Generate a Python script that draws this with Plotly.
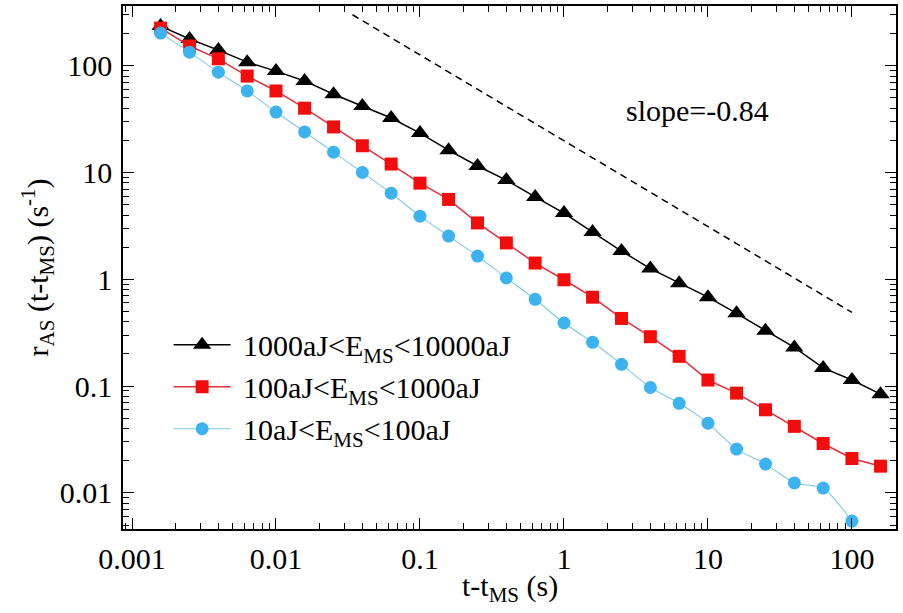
import plotly.graph_objects as go

# ---- data ----
t_vals = [0.00158, 0.00251, 0.00398, 0.00631, 0.01, 0.0158, 0.0251, 0.0398, 0.0631,
          0.1, 0.158, 0.251, 0.398, 0.631, 1, 1.58, 2.51, 3.98, 6.31, 10, 15.8,
          25.1, 39.8, 63.1, 100, 158]
rate_high = [235, 178, 140, 108, 89, 72, 54, 42, 32.4, 23.4, 16.2, 11.5, 8.5, 5.9,
             4.17, 2.77, 1.84, 1.26, 0.92, 0.68, 0.48, 0.33, 0.23, 0.148, 0.114, 0.084]
rate_mid = [225, 153, 116, 80, 58, 40, 26.7, 17.8, 12.0, 7.95, 5.6, 3.37, 2.19, 1.42,
            0.99, 0.68, 0.43, 0.29, 0.19, 0.114, 0.086, 0.060, 0.042, 0.029, 0.021, 0.0178]
rate_low = [202, 134, 87, 58, 36.8, 24, 15.5, 10, 6.4, 3.9, 2.54, 1.65, 1.03, 0.65,
            0.39, 0.257, 0.16, 0.097, 0.069, 0.045, 0.0257, 0.0186, 0.0124, 0.0111, 0.00545]
slope_x = [0.034, 100]
slope_y = [300, 0.49]
names = ["\u00a01000aJ<E<sub>MS</sub><10000aJ", "\u00a0100aJ<E<sub>MS</sub><1000aJ",
         "\u00a010aJ<E<sub>MS</sub><100aJ"]
x_tickvals = [0.001, 0.01, 0.1, 1, 10, 100]
x_ticktext = ["0.001", "0.01", "0.1", "1", "10", "100"]
y_tickvals = [0.01, 0.1, 1, 10, 100]
y_ticktext = ["0.01", "0.1", "1", "10", "100"]

FONT = "Liberation Serif, Times New Roman, Times, DejaVu Serif, serif"
FS = 30

fig = go.Figure()
fig.add_trace(go.Scatter(x=slope_x, y=slope_y, mode="lines", showlegend=False,
                         line=dict(color="black", width=1.5, dash="7px,5px")))
fig.add_trace(go.Scatter(x=t_vals, y=rate_high, mode="lines+markers", name=names[0],
                         line=dict(color="black", width=1.5),
                         marker=dict(symbol="triangle-up", size=16, color="black")))
fig.add_trace(go.Scatter(x=t_vals, y=rate_mid, mode="lines+markers", name=names[1],
                         line=dict(color="#e3303c", width=1.5),
                         marker=dict(symbol="square", size=13, color="#f20c0c")))
fig.add_trace(go.Scatter(x=t_vals[:len(rate_low)], y=rate_low, mode="lines+markers", name=names[2],
                         line=dict(color="#7fc8e6", width=1.1, shape="spline", smoothing=0.6),
                         marker=dict(symbol="circle", size=13, color="#3cb2ee")))

axis_common = dict(type="log", showline=True, linecolor="black", linewidth=1.5,
                   mirror="allticks", ticks="inside", ticklen=11, tickwidth=1.2,
                   tickcolor="black", showgrid=False, zeroline=False, automargin=False,
                   tickfont=dict(family=FONT, size=FS, color="black"),
                   minor=dict(ticks="inside", ticklen=6, tickwidth=1, tickcolor="black",
                              dtick="D1", showgrid=False))

fig.update_xaxes(**axis_common, range=[-3.0625, 2.306], tickmode="array",
                 tickvals=x_tickvals, ticktext=x_ticktext, ticklabelstandoff=2)
fig.update_yaxes(**axis_common, range=[-2.338, 2.559], tickmode="array",
                 tickvals=y_tickvals, ticktext=y_ticktext, ticklabelstandoff=3)

fig.add_annotation(text="slope=-0.84", xref="paper", yref="paper", x=0.7426, y=0.800,
                   showarrow=False, font=dict(family=FONT, size=FS, color="black"),
                   xanchor="center", yanchor="middle")
fig.add_annotation(text="t-t<sub>MS</sub> (s)", xref="paper", yref="paper", x=0.5, y=-0.112,
                   showarrow=False, font=dict(family=FONT, size=FS, color="black"),
                   xanchor="center", yanchor="middle")
fig.add_annotation(text="r<sub>AS</sub> (t-t<sub>MS</sub>) (s<sup>-1</sup>)", xref="paper",
                   yref="paper", x=-0.11, y=0.5, textangle=-90, showarrow=False,
                   font=dict(family=FONT, size=FS, color="black"),
                   xanchor="center", yanchor="middle")

fig.update_layout(
    width=903, height=613,
    margin=dict(l=123, r=7, t=6, b=84, autoexpand=False),
    paper_bgcolor="white", plot_bgcolor="white",
    font=dict(family=FONT, size=FS, color="black"),
    legend=dict(x=0.059, y=0.272, xanchor="left", yanchor="middle",
                bgcolor="rgba(0,0,0,0)", itemwidth=57,
                font=dict(family=FONT, size=FS, color="black"), tracegroupgap=0),
)

fig.write_html("out.html", config={"displayModeBar": False},
               post_script="document.body.style.margin='0';")
